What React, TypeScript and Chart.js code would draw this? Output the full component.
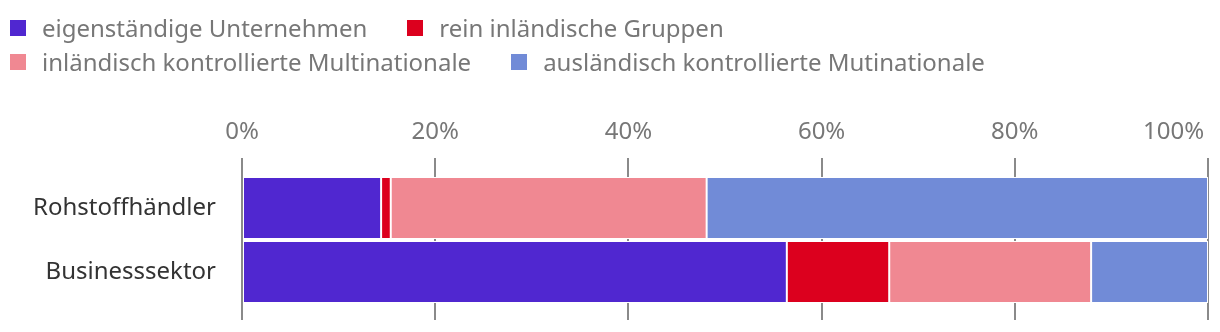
import React, { useEffect, useRef } from 'react';
import { Chart, registerables } from 'chart.js';

Chart.register(...registerables);

const categories = ['Rohstoffhändler', 'Businesssektor'];
const seriesNames = [
  'eigenständige Unternehmen',
  'rein inländische Gruppen',
  'inländisch kontrollierte Multinationale',
  'ausländisch kontrollierte Mutinationale',
];
const seriesColors = ['#5027D0', '#DC001E', '#F08892', '#718BD7'];
const eigenstaendige = [14.4, 56.4];
const reinInlaendisch = [1.0, 10.6];
const inlaendischMulti = [32.7, 20.9];
const auslaendischMulti = [51.9, 12.1];
const tickValues = [0, 20, 40, 60, 80, 100];
const tickLabels = ['0%', '20%', '40%', '60%', '80%', '100%'];

const seriesData = [eigenstaendige, reinInlaendisch, inlaendischMulti, auslaendischMulti];

const FONT = "'Noto Sans', 'Open Sans', sans-serif";
const GRID = '#8a8a8a';

export default function App() {
  const ref = useRef<HTMLCanvasElement | null>(null);

  useEffect(() => {
    if (!ref.current) return;
    const chart = new Chart(ref.current, {
      type: 'bar',
      data: {
        labels: categories,
        datasets: seriesData.map((d, i) => ({
          label: seriesNames[i],
          data: d,
          backgroundColor: seriesColors[i],
          borderColor: '#ffffff',
          borderWidth: 1,
          borderSkipped: false,
          categoryPercentage: 1,
          barPercentage: 0.96875,
        })),
      },
      options: {
        indexAxis: 'y',
        animation: false,
        responsive: true,
        maintainAspectRatio: false,
        layout: { padding: { top: 110, right: 4, bottom: 4, left: 0 } },
        plugins: { legend: { display: false }, tooltip: { enabled: false } },
        scales: {
          x: {
            type: 'linear',
            position: 'top',
            stacked: true,
            min: 0,
            max: 100,
            afterFit: (s: any) => {
              s.paddingRight = 0;
              s.height = 58;
            },
            afterBuildTicks: (s: any) => {
              s.ticks = tickValues.map((v) => ({ value: v }));
            },
            ticks: {
              stepSize: 20,
              padding: 11,
              color: '#777777',
              font: { family: FONT, size: 24 },
              callback: (v: any) => {
                const i = tickValues.indexOf(Number(v));
                const lbl = i >= 0 ? tickLabels[i] : '';
                return i === tickValues.length - 1 ? lbl + '\u2007\u2007\u2007\u2007\u2007' : lbl;
              },
            },
            grid: { color: GRID, lineWidth: 2, tickLength: 18, drawTicks: true },
            border: { display: false },
          },
          x2: {
            type: 'linear',
            position: 'bottom',
            min: 0,
            max: 100,
            afterFit: (s: any) => {
              s.height = 16;
            },
            afterBuildTicks: (s: any) => {
              s.ticks = tickValues.map((v) => ({ value: v }));
            },
            ticks: { display: false, stepSize: 20 },
            grid: { color: GRID, lineWidth: 2, tickLength: 16, drawTicks: true, drawOnChartArea: false },
            border: { display: false },
          },
          y: {
            stacked: true,
            afterFit: (s: any) => {
              s.width = 234;
              s.paddingTop = 0;
              s.paddingBottom = 0;
            },
            ticks: {
              padding: 26,
              color: '#333333',
              font: { family: FONT, size: 24 },
            },
            grid: { display: false, drawTicks: false, tickLength: 0 },
            border: { display: false },
          },
        },
      },
    });
    return () => chart.destroy();
  }, []);

  return (
    <div style={{ position: 'relative', width: 1204, height: 316 }}>
      <div
        style={{
          position: 'absolute',
          top: 3,
          left: 2,
          width: 1050,
          display: 'flex',
          flexWrap: 'wrap',
          columnGap: 40,
          fontFamily: FONT,
          fontSize: 24,
          lineHeight: '34px',
          color: '#777777',
          zIndex: 1,
        }}
      >
        {seriesNames.map((n, i) => (
          <div key={n} style={{ display: 'flex', alignItems: 'center', whiteSpace: 'nowrap', flexShrink: 0 }}>
            <span
              style={{
                display: 'block',
                flexShrink: 0,
                width: 16,
                height: 16,
                background: seriesColors[i],
                marginRight: 16,
              }}
            />
            <span>{n}</span>
          </div>
        ))}
      </div>
      <canvas ref={ref} />
    </div>
  );
}
